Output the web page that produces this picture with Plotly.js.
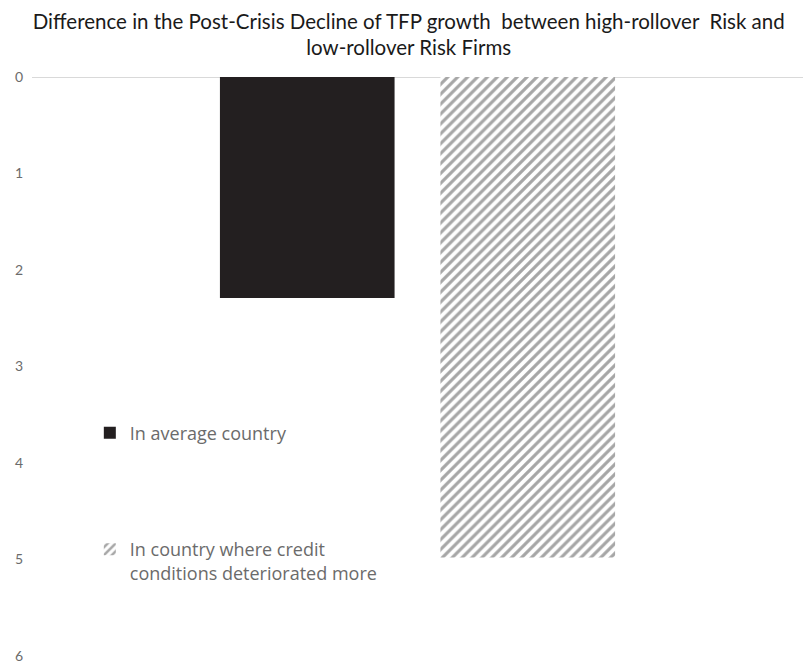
<!DOCTYPE html>
<html>
<head>
<meta charset="utf-8">
<script src="https://cdn.plot.ly/plotly-3.0.1.min.js"></script>
<style>html,body{margin:0;padding:0;background:#fff;}#chart{width:803px;height:663px;}</style>
</head>
<body>
<div id="chart"></div>
<script>
const categories = [""];
const seriesNames = ["In average country", "In country where credit<br>conditions deteriorated more"];
const averageCountry = [2.29];
const deterioratedCountry = [4.98];
const yTicks = [0, 1, 2, 3, 4, 5, 6];

const FONT = "Lato, 'Open Sans', sans-serif";
const LEGFONT = "'Open Sans', Lato, sans-serif";

const traces = [
  {
    type: "bar",
    x: categories,
    y: averageCountry,
    name: seriesNames[0],
    marker: {color: "#231f20", line: {width: 0}},
    legend: "legend",
    hoverinfo: "skip"
  },
  {
    type: "bar",
    x: categories,
    y: deterioratedCountry,
    name: seriesNames[1],
    marker: {
      color: "#ffffff",
      line: {width: 0},
      pattern: {shape: "/", fgcolor: "#a6a6a6", bgcolor: "#ffffff", size: 7, solidity: 0.45}
    },
    legend: "legend2",
    hoverinfo: "skip"
  }
];

const layout = {
  width: 803,
  height: 663,
  margin: {l: 32, r: 0, t: 77, b: 7},
  paper_bgcolor: "#ffffff",
  plot_bgcolor: "#ffffff",
  font: {family: FONT, color: "#595959"},
  title: {
    text: "Difference in the Post-Crisis Decline of TFP growth  between high-rollover  Risk and<br>low-rollover Risk Firms",
    font: {family: FONT, size: 20.5, color: "#1a1a1a"},
    x: 0.509, xanchor: "center",
    y: 0.957, yanchor: "top"
  },
  barmode: "group",
  bargap: 0.428,
  bargroupgap: 0.208,
  xaxis: {visible: false, range: [-0.5, 0.5], fixedrange: true},
  yaxis: {
    range: [6, 0],
    tickvals: yTicks,
    ticktext: yTicks.map(String),
    showgrid: false,
    zeroline: true,
    zerolinecolor: "#d9d9d9",
    zerolinewidth: 1,
    showline: false,
    ticks: "",
    ticklabelstandoff: 8,
    ticklabeloverflow: "allow",
    tickfont: {family: FONT, size: 14, color: "#6b6b6b"}
  },
  showlegend: true,
  legend: {
    x: 0.075, xanchor: "left",
    y: 0.385, yanchor: "middle",
    bgcolor: "rgba(0,0,0,0)",
    font: {family: LEGFONT, size: 18, color: "#6b6b6b"},
    itemwidth: 30
  },
  legend2: {
    x: 0.075, xanchor: "left",
    y: 0.164, yanchor: "middle",
    bgcolor: "rgba(0,0,0,0)",
    font: {family: LEGFONT, size: 18, color: "#6b6b6b"},
    itemwidth: 30,
    valign: "top"
  }
};

Plotly.newPlot("chart", traces, layout, {displayModeBar: false, staticPlot: true});
</script>
</body>
</html>
